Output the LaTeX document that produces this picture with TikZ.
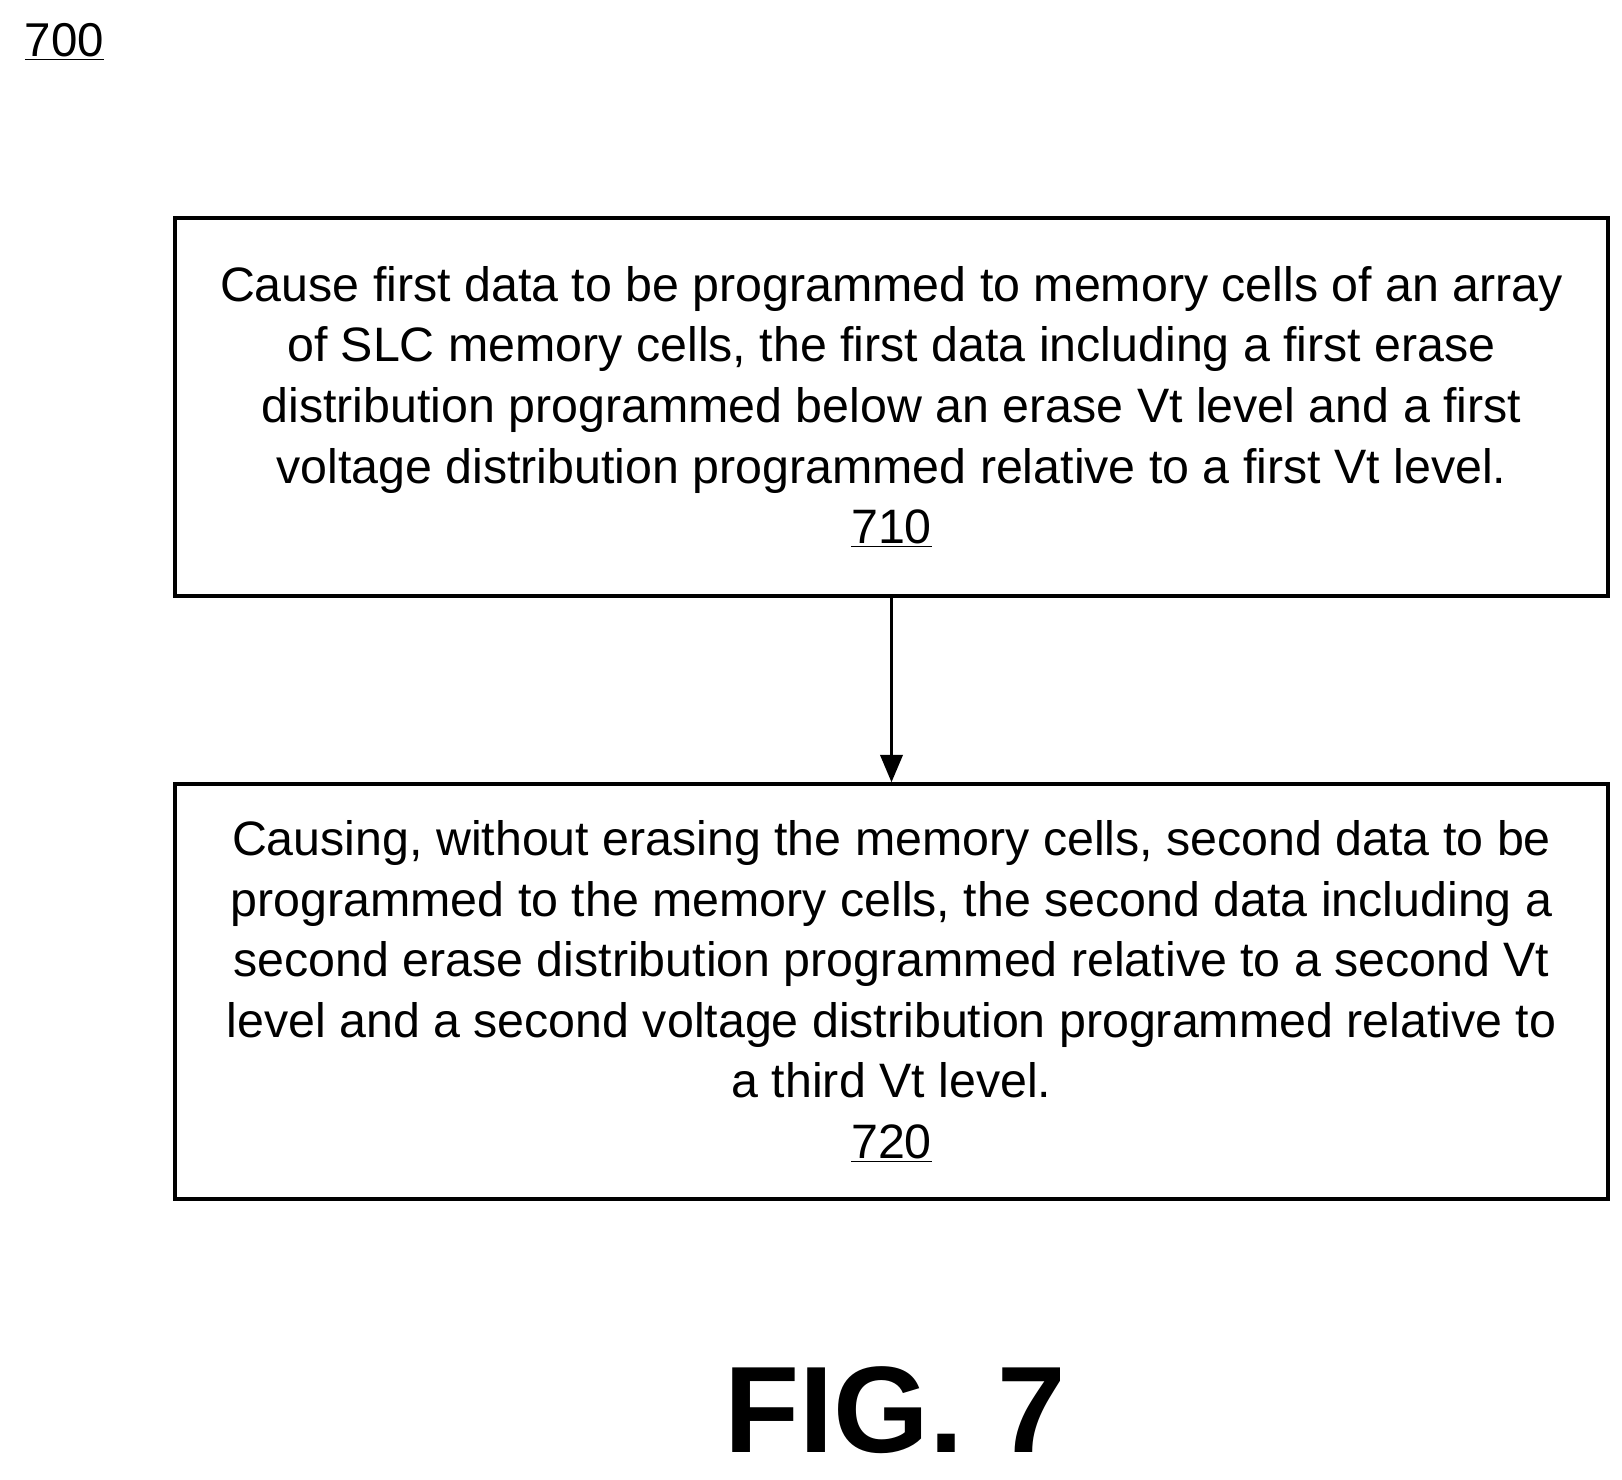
\documentclass[tikz,border=0pt]{standalone}
\usepackage{fontspec}
\setmainfont{Liberation Sans}
\usetikzlibrary{positioning,arrows.meta}
\tikzset{
  stepbox/.style={draw,line width=2pt,minimum width=28.66cm,align=center,
    font=\fontsize{27.5}{34.5}\selectfont,inner sep=0pt},
  flowarrow/.style={-{Triangle[length=0.55cm,width=0.45cm]},line width=1.5pt}
}
\begin{document}
\begin{tikzpicture}
\useasboundingbox (0,0) rectangle (32.44,-29.58);
\node[font=\fontsize{27}{34}\selectfont] (fignum) at (1.29,-0.84) {\underline{700}};

\node[stepbox,minimum height=7.56cm] (s710) at (17.83,-8.14)
  {Cause first data to be programmed to memory cells of an array\\ of SLC memory cells, the first data including a first erase\\ distribution programmed below an erase Vt level and a first\\ voltage distribution programmed relative to a first Vt level.\\ \underline{710}};

\node[stepbox,minimum height=8.3cm] (s720) at (17.83,-19.83)
  {Causing, without erasing the memory cells, second data to be\\ programmed to the memory cells, the second data including a\\ second erase distribution programmed relative to a second Vt\\ level and a second voltage distribution programmed relative to\\ a third Vt level.\\ \underline{720}};

\draw[flowarrow] (s710) -- (s720);

\node[font=\fontsize{70}{80}\selectfont\bfseries] (figlabel) at (17.9,-28.2) {FIG. 7};
\end{tikzpicture}
\end{document}
